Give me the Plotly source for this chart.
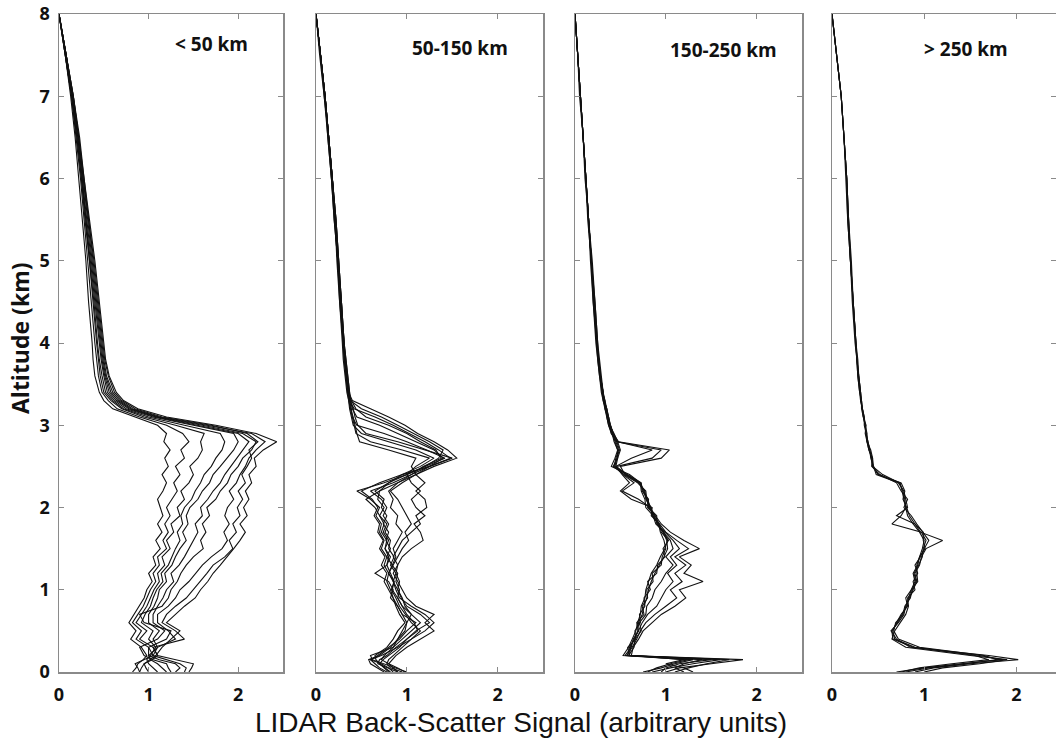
import plotly.graph_objects as go

# Altitude levels (km) shared by every profile
ALT = [0.0, 0.05, 0.1, 0.15, 0.2, 0.3, 0.4, 0.5, 0.6, 0.7, 0.8, 0.9, 1.0, 1.1, 1.2, 1.3, 1.4,
       1.5, 1.6, 1.7, 1.8, 1.9, 2.0, 2.1, 2.2, 2.3, 2.4, 2.5, 2.6, 2.7, 2.8, 2.9, 3.0, 3.1,
       3.2, 3.3, 3.4, 3.6, 3.8, 4.0, 4.5, 5.0, 5.5, 6.0, 6.5, 7.0, 7.5, 8.0]

PANEL_LABELS = ["&lt; 50 km", "50-150 km", "150-250 km", "&gt; 250 km"]
X_TICKS = [0, 1, 2]
Y_TICKS = [0, 1, 2, 3, 4, 5, 6, 7, 8]
X_TITLE = "LIDAR Back-Scatter Signal (arbitrary units)"
Y_TITLE = "Altitude (km)"

# ---- Panel 1: < 50 km ----
P1_L1 = [0.82, 0.86, 0.88, 0.94, 0.98, 0.92, 0.8, 0.86, 0.78, 0.84, 0.9, 0.95, 0.98, 1.04, 1.0, 1.08, 1.05, 1.13, 1.08, 1.15, 1.1, 1.16, 1.13, 1.1, 1.16, 1.2, 1.15, 1.22, 1.18, 1.24, 1.17, 1.2, 1.1, 0.85, 0.6, 0.5, 0.45, 0.4, 0.38, 0.37, 0.33, 0.3, 0.26, 0.22, 0.18, 0.13, 0.07, 0.0]
P1_L2 = [0.9, 0.88, 0.85, 0.95, 1.05, 1.0, 0.86, 0.92, 0.82, 0.88, 0.94, 0.98, 1.02, 1.08, 1.05, 1.12, 1.1, 1.2, 1.16, 1.22, 1.18, 1.24, 1.2, 1.26, 1.32, 1.28, 1.35, 1.3, 1.4, 1.36, 1.45, 1.38, 1.2, 0.9, 0.65, 0.55, 0.48, 0.44, 0.42, 0.4, 0.36, 0.32, 0.28, 0.24, 0.19, 0.14, 0.07, 0.0]
P1_L3 = [1.0, 0.97, 0.95, 1.04, 1.1, 1.05, 0.9, 0.98, 0.86, 0.92, 0.98, 1.02, 1.06, 1.12, 1.1, 1.18, 1.15, 1.24, 1.2, 1.28, 1.25, 1.35, 1.32, 1.4, 1.36, 1.45, 1.5, 1.46, 1.55, 1.6, 1.58, 1.62, 1.3, 0.95, 0.7, 0.58, 0.5, 0.46, 0.44, 0.42, 0.38, 0.34, 0.29, 0.25, 0.2, 0.14, 0.07, 0.0]
P1_L4 = [1.1, 1.05, 1.0, 0.98, 1.02, 1.08, 1.0, 1.05, 0.92, 0.96, 1.02, 1.05, 1.09, 1.16, 1.14, 1.22, 1.26, 1.3, 1.35, 1.32, 1.38, 1.36, 1.4, 1.48, 1.52, 1.58, 1.62, 1.7, 1.75, 1.82, 1.85, 1.8, 1.4, 1.0, 0.72, 0.6, 0.52, 0.48, 0.45, 0.43, 0.39, 0.34, 0.3, 0.25, 0.2, 0.14, 0.07, 0.0]
P1_L5 = [1.2, 1.15, 1.1, 1.02, 1.0, 1.1, 1.05, 1.12, 1.0, 1.0, 1.06, 1.1, 1.12, 1.2, 1.18, 1.26, 1.3, 1.35, 1.42, 1.38, 1.44, 1.42, 1.46, 1.55, 1.6, 1.68, 1.72, 1.8, 1.88, 1.95, 2.0, 1.95, 1.5, 1.05, 0.75, 0.62, 0.54, 0.5, 0.47, 0.45, 0.4, 0.35, 0.3, 0.26, 0.21, 0.15, 0.08, 0.0]
P1_L6 = [1.25, 1.22, 1.2, 1.05, 0.95, 0.9, 1.1, 1.18, 1.05, 1.05, 1.1, 1.16, 1.2, 1.28, 1.25, 1.34, 1.4, 1.45, 1.5, 1.55, 1.52, 1.6, 1.58, 1.66, 1.72, 1.8, 1.85, 1.92, 1.98, 2.05, 2.12, 2.0, 1.55, 1.08, 0.78, 0.64, 0.56, 0.51, 0.48, 0.46, 0.41, 0.36, 0.31, 0.26, 0.21, 0.15, 0.08, 0.0]
P1_L7 = [1.3, 1.35, 1.3, 1.12, 1.0, 1.0, 1.2, 1.25, 0.95, 0.9, 1.15, 1.22, 1.25, 1.32, 1.36, 1.42, 1.5, 1.61, 1.58, 1.64, 1.6, 1.68, 1.65, 1.75, 1.8, 1.88, 1.92, 2.0, 2.05, 2.15, 2.2, 2.05, 1.6, 1.1, 0.8, 0.66, 0.58, 0.52, 0.49, 0.47, 0.42, 0.37, 0.32, 0.27, 0.22, 0.15, 0.08, 0.0]
P1_L8 = [1.4, 1.42, 1.35, 1.2, 1.05, 1.1, 1.3, 1.22, 1.1, 1.1, 1.22, 1.3, 1.35, 1.45, 1.52, 1.6, 1.7, 1.82, 1.88, 1.84, 1.9, 1.85, 1.88, 1.95, 1.9, 1.98, 2.02, 2.08, 2.12, 2.2, 2.3, 2.15, 1.65, 1.12, 0.82, 0.68, 0.6, 0.53, 0.5, 0.48, 0.43, 0.38, 0.33, 0.27, 0.22, 0.16, 0.08, 0.0]
P1_L9 = [1.45, 1.48, 1.5, 1.3, 1.1, 1.05, 1.4, 1.3, 1.15, 1.2, 1.3, 1.42, 1.5, 1.58, 1.65, 1.72, 1.85, 1.94, 1.9, 1.98, 1.94, 2.02, 1.99, 2.05, 2.0, 2.08, 2.04, 2.1, 2.15, 2.12, 2.22, 2.1, 1.7, 1.15, 0.85, 0.7, 0.62, 0.55, 0.51, 0.49, 0.44, 0.39, 0.33, 0.28, 0.22, 0.16, 0.08, 0.0]
P1_L10 = [0.9, 0.92, 0.95, 1.02, 1.08, 1.15, 1.25, 1.35, 1.2, 1.3, 1.4, 1.52, 1.58, 1.66, 1.72, 1.8, 1.88, 1.95, 2.02, 2.08, 2.02, 2.1, 2.06, 2.12, 2.08, 2.15, 2.12, 2.2, 2.18, 2.28, 2.43, 2.2, 1.75, 1.2, 0.88, 0.72, 0.64, 0.56, 0.52, 0.5, 0.45, 0.4, 0.34, 0.28, 0.23, 0.16, 0.08, 0.0]

# ---- Panel 2: 50-150 km ----
P2_L1 = [0.9, 0.85, 0.8, 0.72, 0.75, 0.85, 0.9, 0.95, 1.0, 1.05, 0.95, 0.9, 0.84, 0.86, 0.82, 0.78, 0.8, 0.76, 0.78, 0.72, 0.75, 0.7, 0.65, 0.55, 0.7, 0.9, 1.1, 1.3, 1.55, 1.45, 1.3, 1.12, 0.98, 0.8, 0.6, 0.4, 0.36, 0.34, 0.32, 0.3, 0.27, 0.24, 0.21, 0.18, 0.14, 0.1, 0.05, 0.0]
P2_L2 = [0.85, 0.8, 0.72, 0.6, 0.68, 0.8, 0.92, 1.0, 1.1, 0.95, 0.9, 0.85, 0.82, 0.78, 0.8, 0.75, 0.78, 0.72, 0.75, 0.7, 0.72, 0.66, 0.7, 0.6, 0.45, 0.75, 1.0, 1.2, 1.35, 1.4, 1.25, 1.08, 0.9, 0.72, 0.5, 0.38, 0.37, 0.35, 0.33, 0.31, 0.28, 0.25, 0.22, 0.18, 0.14, 0.1, 0.05, 0.0]
P2_L3 = [0.8, 0.75, 0.7, 0.74, 0.8, 0.92, 1.0, 1.1, 1.25, 1.15, 1.0, 0.94, 0.9, 0.85, 0.88, 0.82, 0.86, 0.8, 0.82, 0.76, 0.8, 0.74, 0.78, 0.72, 0.6, 0.85, 1.05, 1.25, 1.48, 1.35, 1.2, 1.02, 0.85, 0.65, 0.42, 0.37, 0.35, 0.33, 0.32, 0.3, 0.27, 0.24, 0.2, 0.17, 0.14, 0.09, 0.05, 0.0]
P2_L4 = [0.95, 0.82, 0.78, 0.8, 0.85, 0.95, 1.05, 1.2, 1.3, 1.2, 1.05, 0.92, 0.88, 0.85, 0.8, 0.85, 0.9, 0.95, 1.02, 0.98, 1.05, 1.0, 0.95, 0.9, 0.82, 0.95, 1.1, 1.25, 1.4, 1.3, 1.1, 0.9, 0.7, 0.45, 0.4, 0.38, 0.36, 0.34, 0.32, 0.31, 0.27, 0.24, 0.21, 0.18, 0.14, 0.1, 0.05, 0.0]
P2_L5 = [0.78, 0.7, 0.65, 0.6, 0.72, 0.9, 1.05, 1.15, 1.05, 0.98, 0.92, 0.88, 0.83, 0.86, 0.8, 0.84, 0.78, 0.82, 0.77, 0.8, 0.74, 0.78, 0.72, 0.75, 0.65, 0.8, 1.0, 1.2, 1.42, 1.22, 1.0, 0.75, 0.45, 0.4, 0.38, 0.37, 0.35, 0.33, 0.31, 0.3, 0.26, 0.23, 0.21, 0.17, 0.13, 0.1, 0.05, 0.0]
P2_L6 = [0.75, 0.68, 0.6, 0.58, 0.7, 0.82, 0.9, 0.98, 1.0, 0.95, 0.9, 0.82, 0.85, 0.8, 0.65, 0.78, 0.82, 0.76, 0.8, 0.74, 0.78, 0.7, 0.75, 0.68, 0.7, 0.8, 0.95, 1.15, 1.3, 1.1, 0.8, 0.5, 0.41, 0.39, 0.37, 0.36, 0.34, 0.32, 0.3, 0.29, 0.26, 0.24, 0.2, 0.17, 0.13, 0.09, 0.04, 0.0]
P2_L7 = [0.98, 0.9, 0.8, 0.84, 0.88, 1.0, 1.15, 1.3, 1.2, 1.3, 1.1, 1.0, 0.95, 0.9, 0.85, 0.9, 0.95, 1.05, 1.18, 1.15, 1.08, 1.2, 1.1, 1.05, 1.15, 1.05, 1.0, 1.1, 1.25, 0.95, 0.6, 0.44, 0.42, 0.4, 0.39, 0.37, 0.36, 0.34, 0.32, 0.3, 0.28, 0.25, 0.22, 0.18, 0.14, 0.1, 0.05, 0.0]
P2_L8 = [1.0, 0.88, 0.75, 0.62, 0.6, 0.85, 0.95, 1.05, 1.15, 1.05, 0.98, 0.95, 0.9, 0.92, 0.88, 0.9, 0.85, 0.9, 0.95, 1.05, 1.15, 1.1, 1.22, 1.2, 1.1, 1.2, 1.1, 1.05, 1.1, 0.8, 0.48, 0.45, 0.43, 0.41, 0.38, 0.36, 0.35, 0.33, 0.31, 0.3, 0.27, 0.24, 0.21, 0.18, 0.14, 0.1, 0.05, 0.0]
P2_L9 = [0.82, 0.76, 0.7, 0.66, 0.65, 0.78, 0.85, 0.9, 0.98, 0.92, 0.88, 0.85, 0.8, 0.75, 0.78, 0.72, 0.76, 0.7, 0.74, 0.68, 0.7, 0.64, 0.68, 0.62, 0.5, 0.7, 0.95, 1.25, 1.5, 1.2, 0.9, 0.55, 0.46, 0.43, 0.41, 0.38, 0.37, 0.35, 0.33, 0.31, 0.28, 0.25, 0.22, 0.18, 0.14, 0.1, 0.05, 0.0]
P2_L10 = [0.9, 0.78, 0.68, 0.7, 0.78, 0.88, 1.0, 1.12, 1.08, 1.0, 0.95, 0.9, 0.92, 0.88, 0.9, 0.84, 0.88, 0.85, 0.9, 0.95, 0.88, 0.9, 0.82, 0.85, 0.8, 0.9, 1.05, 1.18, 1.38, 1.32, 1.15, 1.0, 0.8, 0.55, 0.44, 0.39, 0.36, 0.34, 0.32, 0.31, 0.28, 0.24, 0.21, 0.18, 0.14, 0.1, 0.05, 0.0]

# ---- Panel 3: 150-250 km ----
P3_L1 = [1.0, 1.15, 1.5, 1.85, 0.58, 0.6, 0.66, 0.69, 0.7, 0.74, 0.76, 0.79, 0.81, 0.84, 0.88, 0.93, 0.98, 1.02, 1.01, 0.97, 0.91, 0.87, 0.83, 0.8, 0.76, 0.72, 0.56, 0.44, 0.46, 0.49, 0.46, 0.41, 0.38, 0.36, 0.34, 0.32, 0.31, 0.28, 0.26, 0.24, 0.21, 0.18, 0.15, 0.12, 0.09, 0.06, 0.03, 0.0]
P3_L2 = [0.85, 1.05, 1.3, 1.6, 0.55, 0.62, 0.64, 0.7, 0.68, 0.76, 0.74, 0.8, 0.79, 0.86, 0.85, 0.95, 0.96, 1.0, 0.98, 0.94, 0.92, 0.85, 0.84, 0.78, 0.77, 0.7, 0.55, 0.5, 0.95, 1.04, 0.48, 0.42, 0.39, 0.37, 0.35, 0.33, 0.31, 0.28, 0.26, 0.25, 0.22, 0.19, 0.15, 0.12, 0.09, 0.06, 0.03, 0.0]
P3_L3 = [1.2, 1.1, 1.2, 1.4, 0.6, 0.58, 0.67, 0.66, 0.72, 0.71, 0.77, 0.76, 0.83, 0.8, 0.9, 0.91, 0.99, 0.97, 1.03, 0.95, 0.93, 0.84, 0.85, 0.62, 0.5, 0.6, 0.52, 0.45, 0.62, 0.85, 0.47, 0.43, 0.38, 0.37, 0.34, 0.33, 0.3, 0.28, 0.26, 0.24, 0.21, 0.18, 0.15, 0.12, 0.09, 0.06, 0.03, 0.0]
P3_L4 = [1.3, 1.2, 1.0, 1.2, 0.62, 0.64, 0.7, 0.75, 0.85, 0.95, 1.1, 1.22, 1.15, 1.41, 1.2, 1.28, 1.15, 1.37, 1.2, 1.05, 0.95, 0.88, 0.82, 0.79, 0.75, 0.71, 0.57, 0.43, 0.45, 0.48, 0.45, 0.4, 0.37, 0.35, 0.33, 0.31, 0.3, 0.27, 0.25, 0.24, 0.21, 0.18, 0.15, 0.12, 0.09, 0.06, 0.03, 0.0]
P3_L5 = [0.75, 0.95, 1.1, 1.3, 0.57, 0.63, 0.68, 0.72, 0.78, 0.88, 1.0, 1.12, 1.05, 1.18, 1.1, 1.22, 1.1, 1.25, 1.12, 1.0, 0.93, 0.88, 0.8, 0.81, 0.74, 0.73, 0.58, 0.45, 0.47, 0.47, 0.44, 0.42, 0.39, 0.36, 0.35, 0.32, 0.31, 0.29, 0.27, 0.25, 0.22, 0.18, 0.15, 0.12, 0.09, 0.06, 0.03, 0.0]
P3_L6 = [1.1, 1.25, 1.45, 1.7, 0.6, 0.61, 0.65, 0.7, 0.74, 0.8, 0.9, 0.95, 1.0, 1.08, 1.02, 1.12, 1.05, 1.15, 1.08, 0.99, 0.9, 0.9, 0.81, 0.79, 0.78, 0.69, 0.54, 0.42, 0.47, 0.5, 0.47, 0.4, 0.38, 0.36, 0.33, 0.32, 0.3, 0.28, 0.26, 0.24, 0.2, 0.18, 0.14, 0.12, 0.09, 0.06, 0.03, 0.0]
P3_L7 = [0.8, 0.9, 1.05, 1.25, 0.53, 0.59, 0.63, 0.67, 0.69, 0.72, 0.73, 0.77, 0.78, 0.81, 0.84, 0.9, 0.94, 0.99, 1.02, 0.98, 0.89, 0.86, 0.78, 0.77, 0.73, 0.72, 0.6, 0.4, 0.44, 0.47, 0.43, 0.41, 0.37, 0.35, 0.34, 0.31, 0.29, 0.27, 0.25, 0.23, 0.2, 0.17, 0.15, 0.11, 0.09, 0.05, 0.03, 0.0]
P3_L8 = [0.95, 1.0, 1.15, 1.5, 0.59, 0.65, 0.66, 0.73, 0.71, 0.78, 0.79, 0.85, 0.88, 0.95, 1.0, 1.08, 1.0, 1.08, 1.05, 0.97, 0.92, 0.86, 0.83, 0.7, 0.52, 0.65, 0.53, 0.46, 0.85, 0.95, 0.46, 0.42, 0.39, 0.37, 0.35, 0.32, 0.31, 0.28, 0.26, 0.24, 0.21, 0.18, 0.15, 0.12, 0.09, 0.06, 0.03, 0.0]

# ---- Panel 4: > 250 km ----
P4_L1 = [0.7, 1.0, 1.4, 1.85, 1.6, 0.9, 0.68, 0.66, 0.7, 0.75, 0.82, 0.8, 0.86, 0.9, 0.88, 0.93, 0.95, 0.98, 1.0, 0.95, 0.88, 0.82, 0.8, 0.78, 0.76, 0.74, 0.5, 0.44, 0.43, 0.4, 0.38, 0.37, 0.36, 0.34, 0.33, 0.32, 0.31, 0.29, 0.27, 0.26, 0.23, 0.2, 0.18, 0.16, 0.13, 0.1, 0.05, 0.0]
P4_L2 = [0.9, 1.1, 1.5, 2.02, 1.7, 0.85, 0.7, 0.64, 0.72, 0.78, 0.8, 0.84, 0.88, 0.92, 0.9, 0.95, 0.97, 1.02, 1.2, 0.96, 0.9, 0.7, 0.82, 0.8, 0.78, 0.72, 0.48, 0.45, 0.42, 0.41, 0.39, 0.37, 0.35, 0.35, 0.33, 0.32, 0.3, 0.28, 0.27, 0.26, 0.23, 0.2, 0.18, 0.16, 0.13, 0.1, 0.05, 0.0]
P4_L3 = [1.0, 1.2, 1.6, 1.9, 1.5, 0.8, 0.65, 0.68, 0.74, 0.8, 0.83, 0.82, 0.9, 0.88, 0.93, 0.9, 0.96, 1.0, 1.05, 0.98, 0.92, 0.86, 0.78, 0.82, 0.75, 0.7, 0.52, 0.43, 0.44, 0.4, 0.38, 0.38, 0.36, 0.34, 0.33, 0.31, 0.3, 0.28, 0.27, 0.25, 0.22, 0.2, 0.17, 0.15, 0.13, 0.1, 0.05, 0.0]
P4_L4 = [0.8, 1.05, 1.45, 1.8, 1.65, 0.95, 0.72, 0.67, 0.69, 0.77, 0.79, 0.85, 0.87, 0.91, 0.89, 0.94, 0.98, 0.99, 1.02, 0.97, 0.65, 0.75, 0.8, 0.79, 0.77, 0.73, 0.55, 0.44, 0.43, 0.41, 0.39, 0.37, 0.36, 0.35, 0.33, 0.31, 0.31, 0.29, 0.28, 0.26, 0.23, 0.21, 0.18, 0.16, 0.13, 0.1, 0.05, 0.0]
P4_L5 = [0.75, 0.95, 1.3, 1.7, 1.55, 0.88, 0.66, 0.65, 0.71, 0.76, 0.81, 0.83, 0.86, 0.93, 0.92, 0.92, 0.95, 1.01, 0.99, 0.99, 0.9, 0.84, 0.81, 0.77, 0.79, 0.75, 0.5, 0.45, 0.44, 0.42, 0.38, 0.36, 0.37, 0.34, 0.32, 0.32, 0.31, 0.29, 0.27, 0.26, 0.23, 0.2, 0.17, 0.16, 0.13, 0.1, 0.05, 0.0]

PANELS = [
    [P1_L1, P1_L2, P1_L3, P1_L4, P1_L5, P1_L6, P1_L7, P1_L8, P1_L9, P1_L10],
    [P2_L1, P2_L2, P2_L3, P2_L4, P2_L5, P2_L6, P2_L7, P2_L8, P2_L9, P2_L10],
    [P3_L1, P3_L2, P3_L3, P3_L4, P3_L5, P3_L6, P3_L7, P3_L8],
    [P4_L1, P4_L2, P4_L3, P4_L4, P4_L5],
]

# Screen geometry: the page body margin is removed below, so the figure fills the window
W, H = 1056, 747


def px_x(px):
    return px / W


def px_y(py):
    return 1 - py / H


LEFT_PX = [59, 316, 575, 832]
RIGHT_PX = [283, 543, 802, 1056]
X_MAX = [2.5, 2.5, 2.5, 2.43]
TOP_PX, BOT_PX = 14, 672
LABEL_PX = [(211, 44), (460, 48), (723, 50), (966, 49)]

AXIS_COLOR = "#8a8a8a"
TICK_FONT = dict(family="Open Sans", size=18, color="#111111", weight="bold")

fig = go.Figure()
for i, lines in enumerate(PANELS):
    suffix = "" if i == 0 else str(i + 1)
    for vals in lines:
        fig.add_trace(go.Scatter(
            x=vals, y=ALT, mode="lines",
            line=dict(color="#111111", width=1.1),
            xaxis="x" + suffix, yaxis="y" + suffix,
            showlegend=False, hoverinfo="skip",
        ))

layout = dict(
    template="none",
    width=W, height=H, autosize=False,
    margin=dict(l=0, r=0, t=0, b=0, pad=0, autoexpand=False),
    paper_bgcolor="white", plot_bgcolor="white",
    showlegend=False,
)
ydom = [px_y(BOT_PX), px_y(TOP_PX)]
for i in range(4):
    suffix = "" if i == 0 else str(i + 1)
    layout["xaxis" + suffix] = dict(
        domain=[px_x(LEFT_PX[i]), min(1.0, px_x(RIGHT_PX[i]))],
        range=[0, X_MAX[i]], anchor="y" + suffix, automargin=False,
        tickmode="array", tickvals=X_TICKS, ticktext=[str(t) for t in X_TICKS],
        ticks="inside", ticklen=5, tickwidth=1, tickcolor=AXIS_COLOR,
        showline=True, linecolor=AXIS_COLOR, linewidth=1.5, mirror="ticks",
        showgrid=False, zeroline=False, tickfont=TICK_FONT,
        ticklabelstandoff=6, fixedrange=True,
    )
    layout["yaxis" + suffix] = dict(
        domain=ydom, range=[0, 8], anchor="x" + suffix, automargin=False,
        tickmode="array", tickvals=Y_TICKS, ticktext=[str(t) for t in Y_TICKS],
        ticks="inside", ticklen=5, tickwidth=1, tickcolor=AXIS_COLOR,
        showline=True, linecolor=AXIS_COLOR, linewidth=1.5, mirror="ticks",
        showgrid=False, zeroline=False, tickfont=TICK_FONT,
        showticklabels=(i == 0), ticklabelstandoff=4, fixedrange=True,
        ticklabeloverflow="allow",
    )

annotations = []
for i, (lx, ly) in enumerate(LABEL_PX):
    annotations.append(dict(
        text=PANEL_LABELS[i], x=px_x(lx), y=px_y(ly), xref="paper", yref="paper",
        showarrow=False, xanchor="center", yanchor="middle",
        font=dict(family="Open Sans", size=19, color="#111111", weight="bold"),
    ))
annotations.append(dict(
    text=X_TITLE, x=px_x(521), y=px_y(722), xref="paper", yref="paper",
    showarrow=False, xanchor="center", yanchor="middle",
    font=dict(family="Liberation Sans", size=28, color="#111111"),
))
annotations.append(dict(
    text=Y_TITLE, x=px_x(20), y=px_y(338), xref="paper", yref="paper",
    showarrow=False, xanchor="center", yanchor="middle", textangle=-90,
    font=dict(family="Open Sans", size=23, color="#111111", weight="bold"),
))
layout["annotations"] = annotations

fig.update_layout(**layout)
fig.write_html(
    "out.html",
    config={"displayModeBar": False, "staticPlot": True},
    post_script="document.body.style.margin='0';document.body.style.padding='0';"
                "document.documentElement.style.overflow='hidden';",
)
